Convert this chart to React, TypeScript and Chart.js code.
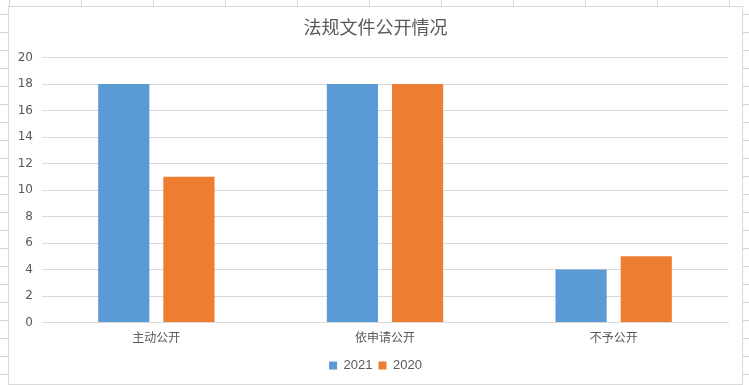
import React, { useEffect, useRef } from "react";
import { Chart, registerables } from "chart.js";

Chart.register(...registerables);

const categories = ["主动公开", "依申请公开", "不予公开"];
const series2021 = [18, 18, 4];
const series2020 = [11, 18, 5];
const seriesLabels = ["2021", "2020"];
const yTicks = { min: 0, max: 20, step: 2 };
const chartTitle = "法规文件公开情况";

export default function App() {
  const ref = useRef<HTMLCanvasElement | null>(null);

  useEffect(() => {
    if (!ref.current) return;
    const chart = new Chart(ref.current, {
      type: "bar",
      data: {
        labels: categories,
        datasets: [
          {
            label: seriesLabels[0],
            data: series2021,
            backgroundColor: "#5b9bd5",
            borderWidth: 0,
            categoryPercentage: 0.57,
            barPercentage: 0.785,
          },
          {
            label: seriesLabels[1],
            data: series2020,
            backgroundColor: "#ed7d31",
            borderWidth: 0,
            categoryPercentage: 0.57,
            barPercentage: 0.785,
          },
        ],
      },
      options: {
        animation: false,
        responsive: false,
        maintainAspectRatio: false,
        layout: { padding: { left: 0, right: 0, top: 0, bottom: 2 } },
        plugins: {
          title: {
            display: true,
            text: chartTitle,
            color: "#595959",
            font: { family: "'Noto Sans CJK SC', sans-serif", size: 18, weight: "normal" },
            padding: { top: 9, bottom: 20 },
          },
          legend: {
            position: "bottom",
            labels: {
              color: "#595959",
              font: { family: "'Liberation Sans', 'DejaVu Sans', sans-serif", size: 13 },
              boxWidth: 8,
              boxHeight: 8,
              padding: 6,
            },
          },
          tooltip: { enabled: false },
        },
        scales: {
          x: {
            grid: { display: false, drawTicks: false },
            border: { display: true, color: "#d9d9d9", width: 1 },
            ticks: {
              color: "#595959",
              font: { family: "'Noto Sans CJK SC', sans-serif", size: 12 },
              padding: 8,
            },
          },
          y: {
            min: yTicks.min,
            max: yTicks.max,
            grid: { color: "#d9d9d9", drawTicks: false },
            border: { display: false },
            ticks: {
              stepSize: yTicks.step,
              color: "#595959",
              font: { family: "'DejaVu Sans', sans-serif", size: 12 },
              padding: 9,
            },
            afterFit: (scale: any) => {
              scale.width = 33;
            },
          },
          yRightSpace: {
            position: "right",
            display: true,
            min: yTicks.min,
            max: yTicks.max,
            grid: { display: false, drawTicks: false },
            border: { display: false },
            ticks: { display: false },
            afterFit: (scale: any) => {
              scale.width = 14;
            },
          },
        },
      },
    });
    return () => chart.destroy();
  }, []);

  return (
    <div
      style={{
        position: "fixed",
        left: 0,
        top: 0,
        width: 749,
        height: 385,
        background: "#ffffff",
        backgroundImage:
          "repeating-linear-gradient(to bottom, transparent 0px, transparent 14px, #d4d4d4 14px, #d4d4d4 15px, transparent 15px, transparent 18px), repeating-linear-gradient(to right, transparent 0px, transparent 9px, #d4d4d4 9px, #d4d4d4 10px, transparent 10px, transparent 72px)",
        overflow: "hidden",
      }}
    >
      <div
        style={{
          position: "absolute",
          left: 8,
          top: 6,
          width: 735,
          height: 379,
          boxSizing: "border-box",
          border: "1px solid #d9d9d9",
          background: "#ffffff",
        }}
      >
        <canvas ref={ref} width={733} height={377} style={{ display: "block" }} />
      </div>
    </div>
  );
}
